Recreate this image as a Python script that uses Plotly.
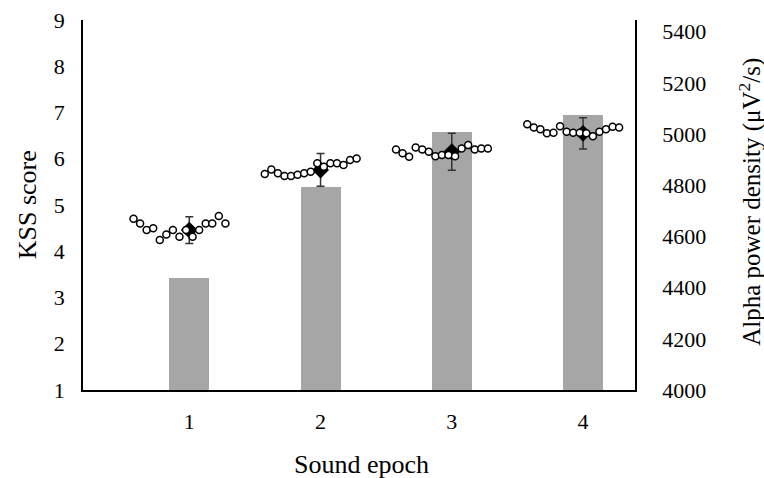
import plotly.graph_objects as go

# ---- data ----
epochs = [1, 2, 3, 4]
kss_scores = [3.42, 5.40, 6.58, 6.95]                 # bars (left axis)
alpha_means = [4625, 4860, 4931, 5003]                # diamonds (right axis)
alpha_sem = [52, 64, 72, 61]
alpha_series = [
    [4669, 4651, 4625, 4632, 4586, 4608, 4625, 4599, 4625, 4599, 4625, 4651, 4651, 4680, 4651],
    [4844, 4862, 4847, 4836, 4836, 4841, 4847, 4853, 4886, 4872, 4886, 4886, 4879, 4899, 4905],
    [4940, 4925, 4912, 4948, 4940, 4931, 4914, 4918, 4918, 4914, 4944, 4957, 4940, 4944, 4944],
    [5039, 5026, 5019, 5003, 5005, 5031, 5009, 5005, 5005, 5003, 4992, 5009, 5019, 5029, 5026],
]
left_ticks = [1, 2, 3, 4, 5, 6, 7, 8, 9]
right_ticks = [4000, 4200, 4400, 4600, 4800, 5000, 5200, 5400]

# sample positions within each epoch (20 slots per epoch, 15 samples used)
circ_x, circ_y = [], []
for e, vals in zip(epochs, alpha_series):
    for k, v in enumerate(vals):
        circ_x.append(e + (k - 8.5) / 20.0)
        circ_y.append(v)

FONT = "Liberation Serif"

fig = go.Figure()
fig.add_trace(go.Bar(x=epochs, y=kss_scores, width=0.305,
                     marker=dict(color="#A6A6A6", line=dict(width=0)),
                     xaxis="x", yaxis="y", showlegend=False))
fig.add_trace(go.Scatter(x=epochs, y=alpha_means, mode="markers",
                         marker=dict(symbol="diamond", size=13, color="black"),
                         error_y=dict(type="data", array=alpha_sem, visible=True,
                                      color="#333333", thickness=1.5, width=4),
                         xaxis="x", yaxis="y2", showlegend=False))
fig.add_trace(go.Scatter(x=circ_x, y=circ_y, mode="markers",
                         marker=dict(symbol="circle", size=7, color="white",
                                     line=dict(color="black", width=1.5)),
                         xaxis="x", yaxis="y2", showlegend=False))

fig.update_layout(
    width=764, height=478,
    margin=dict(l=82.7, r=764 - 635, t=20, b=478 - 390, autoexpand=False),
    paper_bgcolor="white", plot_bgcolor="white",
    font=dict(family=FONT, color="black"),
    bargap=0,
    xaxis=dict(range=[0.19, 4.396], tickvals=epochs, ticktext=[str(e) for e in epochs],
               showgrid=False, zeroline=False, showline=True, linecolor="black",
               linewidth=1.5, ticks="", tickfont=dict(family=FONT, size=22, color="black"),
               ticklabelstandoff=11, fixedrange=True),
    yaxis=dict(range=[1, 9], tickvals=left_ticks, showgrid=False, zeroline=False,
               showline=True, linecolor="black", linewidth=1.5, ticks="",
               tickfont=dict(family=FONT, size=22, color="black"),
               ticklabelstandoff=12, fixedrange=True),
    yaxis2=dict(range=[4000, 5446], tickvals=right_ticks, overlaying="y", side="right",
                anchor="x", showgrid=False, zeroline=False, showline=True,
                linecolor="black", linewidth=1.5, ticks="",
                tickfont=dict(family=FONT, size=22, color="black"),
                ticklabelstandoff=21, fixedrange=True),
    annotations=[
        dict(text="Sound epoch", xref="paper", yref="paper", x=0.505, y=-0.2027,
             xanchor="center", yanchor="middle", showarrow=False,
             font=dict(family=FONT, size=26, color="black")),
        dict(text="KSS score", xref="paper", yref="paper", x=-0.1009, y=0.5,
             xanchor="center", yanchor="middle", textangle=-90, showarrow=False,
             font=dict(family=FONT, size=26, color="black")),
        dict(text="Alpha power density (μV<sup>2</sup>/s)", xref="paper", yref="paper",
             x=1.208, y=0.508, xanchor="center", yanchor="middle", textangle=-90,
             showarrow=False, font=dict(family=FONT, size=25, color="black")),
    ],
)

fig.write_html("out.html", config={"displayModeBar": False},
               post_script="document.body.style.margin='0';document.body.style.padding='0';")
